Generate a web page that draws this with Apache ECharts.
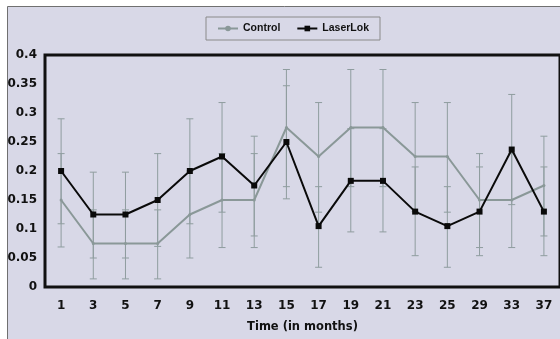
<!DOCTYPE html>
<html>
<head>
<meta charset="utf-8">
<script src="https://cdn.jsdelivr.net/npm/echarts@6/dist/echarts.min.js"></script>
<style>
html,body{margin:0;padding:0;background:#fff;}
#main{width:560px;height:339px;}
</style>
</head>
<body>
<div id="main"></div>
<script>
var categories = ['1','3','5','7','9','11','13','15','17','19','21','23','25','29','33','37'];
var control = [0.15,0.075,0.075,0.075,0.125,0.15,0.15,0.275,0.225,0.275,0.275,0.225,0.225,0.15,0.15,0.175];
var controlLow = [0.069,0.014,0.014,0.014,0.05,0.068,0.068,0.173,0.129,0.173,0.173,0.13,0.129,0.068,0.068,0.088];
var controlHigh = [0.23,0.133,0.133,0.133,0.2,0.23,0.23,0.375,0.318,0.375,0.375,0.318,0.318,0.23,0.23,0.26];
var laserlok = [0.2,0.125,0.125,0.15,0.2,0.225,0.175,0.25,0.105,0.183,0.183,0.13,0.105,0.13,0.237,0.13];
var laserLow = [0.109,0.05,0.05,0.07,0.109,0.129,0.088,0.152,0.034,0.095,0.095,0.054,0.034,0.054,0.142,0.054];
var laserHigh = [0.29,0.198,0.198,0.23,0.29,0.318,0.26,0.347,0.173,0.273,0.273,0.207,0.173,0.207,0.332,0.207];
var yTicks = [0,0.05,0.1,0.15,0.2,0.25,0.3,0.35,0.4];

var errColor = '#8f9d9f';
function errData(low, high){
  return categories.map(function(c,i){ return [i, low[i], high[i]]; });
}
function renderErr(params, api){
  var x = api.value(0);
  var lo = api.coord([x, api.value(1)]);
  var hi = api.coord([x, api.value(2)]);
  var cw = 3.5;
  var st = {stroke: errColor, lineWidth: 1};
  return {type:'group', children:[
    {type:'line', shape:{x1:lo[0],y1:lo[1],x2:hi[0],y2:hi[1]}, style:st},
    {type:'line', shape:{x1:lo[0]-cw,y1:lo[1],x2:lo[0]+cw,y2:lo[1]}, style:st},
    {type:'line', shape:{x1:hi[0]-cw,y1:hi[1],x2:hi[0]+cw,y2:hi[1]}, style:st}
  ]};
}

var chart = echarts.init(document.getElementById('main'), null, {renderer:'canvas'});
var font = 'Liberation Sans, Arial, sans-serif';
var axFont = 'DejaVu Sans, sans-serif';
chart.setOption({
  animation: false,
  backgroundColor: '#ffffff',
  graphic: [{
    type:'rect', z:-10, silent:true,
    shape:{x:7.5, y:6.5, width:560, height:340},
    style:{fill:'#d8d8e7', stroke:'#707070', lineWidth:1}
  }],
  legend: {
    left: 206, top: 17,
    padding: [6, 11, 6, 11],
    itemGap: 16,
    itemWidth: 20, itemHeight: 7,
    borderColor: '#8a8a8a', borderWidth: 1,
    textStyle: {fontFamily: font, fontWeight: 'bold', fontSize: 10.5, color: '#111'},
    data: ['Control','LaserLok']
  },
  grid: {
    left: 45, top: 55, width: 520, height: 232,
    show: true, borderColor: '#111', borderWidth: 3, backgroundColor: 'transparent'
  },
  xAxis: {
    type: 'category', data: categories, boundaryGap: true,
    axisLine: {show:false}, axisTick: {show:false},
    axisLabel: {margin: 13, fontFamily: axFont, fontWeight: 'bold', fontSize: 12, color: '#111'},
    name: 'Time (in months)', nameLocation: 'middle', nameGap: 34,
    nameTextStyle: {fontFamily: axFont, fontWeight: 'bold', fontSize: 11.5, color: '#111'}
  },
  yAxis: {
    type: 'value', min: 0, max: 0.4, interval: 0.05,
    axisLine: {show:false}, axisTick: {show:false}, splitLine: {show:false},
    axisLabel: {margin: 8, fontFamily: axFont, fontWeight: 'bold', fontSize: 12, color: '#111',
      formatter: function(v){ var t = yTicks.filter(function(k){return Math.abs(k-v)<1e-9;}); return t.length ? String(t[0]) : ''; }}
  },
  series: [
    {type:'custom', name:'ctrlErr', renderItem: renderErr, data: errData(controlLow, controlHigh), z:1, silent:true},
    {type:'custom', name:'laserErr', renderItem: renderErr, data: errData(laserLow, laserHigh), z:1, silent:true},
    {type:'line', name:'Control', data: control, z:3,
      lineStyle:{color:'#8a9898', width:2}, itemStyle:{color:'#8a9898'},
      symbol:'circle', symbolSize:3},
    {type:'line', name:'LaserLok', data: laserlok, z:4,
      lineStyle:{color:'#0a0a0a', width:2}, itemStyle:{color:'#0a0a0a'},
      symbol:'rect', symbolSize:6}
  ]
});
</script>
</body>
</html>
